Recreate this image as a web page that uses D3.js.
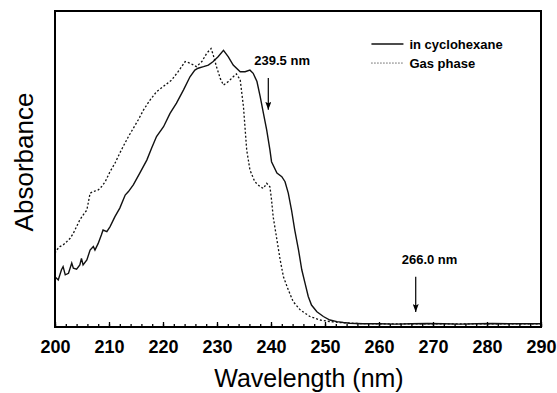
<!DOCTYPE html>
<html>
<head>
<meta charset="utf-8">
<script src="https://cdn.jsdelivr.net/npm/d3@7"></script>
<style>
  body { margin: 0; background: #fff; }
  svg { display: block; font-family: "Liberation Sans", Arial, sans-serif; }
</style>
</head>
<body>
<div id="chart"></div>
<script>
// in cyclohexane (solid)
const solidWl = [200.0, 200.6, 201.2, 201.5, 201.9, 202.5, 203.1, 203.4, 204.0, 204.6, 204.9, 205.2, 205.9,
  206.5, 207.1, 207.4, 208.0, 208.6, 208.9, 209.6, 210.2, 211.1, 212.0, 213.0, 213.6, 214.5, 215.7, 217.0,
  217.9, 218.8, 220.1, 221.3, 222.5, 223.8, 225.0, 225.9, 226.5, 227.5, 228.4, 229.3, 230.2, 231.2, 232.1,
  233.0, 234.3, 235.2, 236.1, 236.7, 237.4, 238.0, 238.6, 239.2, 239.8, 240.1, 241.1, 242.0, 242.6, 243.2,
  243.8, 244.4, 245.1, 245.7, 246.3, 246.9, 247.5, 248.5, 249.7, 250.9, 252.2, 253.4, 254.6, 257, 260, 263,
  266, 269, 272, 275, 278, 281, 284, 287, 290];
const solidAbs = [0.164, 0.154, 0.186, 0.196, 0.170, 0.175, 0.207, 0.191, 0.188, 0.201, 0.222, 0.201, 0.217,
  0.248, 0.259, 0.248, 0.269, 0.296, 0.311, 0.306, 0.322, 0.353, 0.380, 0.421, 0.432, 0.453, 0.490, 0.531,
  0.569, 0.605, 0.636, 0.678, 0.710, 0.752, 0.793, 0.814, 0.820, 0.825, 0.830, 0.841, 0.856, 0.876, 0.856,
  0.830, 0.809, 0.809, 0.814, 0.804, 0.778, 0.731, 0.678, 0.626, 0.563, 0.526, 0.490, 0.479, 0.463, 0.427,
  0.374, 0.311, 0.248, 0.186, 0.144, 0.102, 0.075, 0.054, 0.039, 0.028, 0.023, 0.020, 0.018, 0.016, 0.016,
  0.015, 0.016, 0.017, 0.016, 0.015, 0.016, 0.017, 0.016, 0.016, 0.016];

// gas phase (dotted)
const gasWl = [200.0, 200.3, 200.9, 201.5, 202.2, 202.8, 203.4, 204.0, 204.6, 205.2, 205.9, 206.5, 207.1,
  208.0, 208.6, 209.3, 210.2, 211.1, 212.0, 212.6, 213.6, 214.5, 215.4, 216.4, 217.6, 218.8, 220.4, 221.6,
  222.8, 224.1, 225.0, 226.2, 227.2, 228.1, 228.9, 229.3, 229.9, 230.6, 231.2, 232.1, 233.0, 233.6, 234.3,
  234.9, 235.5, 236.1, 237.0, 238.0, 238.6, 239.2, 239.8, 240.1, 240.4, 241.1, 241.7, 242.3, 243.2, 244.1,
  245.4, 247.2, 249.1, 250.9, 252.8, 256, 260, 264, 268, 272, 276, 280, 284, 288, 290];
const gasAbs = [0.238, 0.248, 0.259, 0.264, 0.275, 0.285, 0.301, 0.322, 0.343, 0.358, 0.374, 0.427, 0.432,
  0.437, 0.447, 0.463, 0.495, 0.521, 0.553, 0.573, 0.605, 0.631, 0.657, 0.689, 0.720, 0.746, 0.767, 0.783,
  0.809, 0.841, 0.836, 0.825, 0.841, 0.867, 0.882, 0.862, 0.825, 0.788, 0.767, 0.778, 0.793, 0.802, 0.783,
  0.699, 0.563, 0.500, 0.463, 0.447, 0.442, 0.458, 0.447, 0.406, 0.353, 0.280, 0.217, 0.164, 0.123, 0.086,
  0.060, 0.039, 0.028, 0.023, 0.020, 0.017, 0.016, 0.016, 0.016, 0.016, 0.016, 0.016, 0.016, 0.016, 0.016];

const xTicks = [200, 210, 220, 230, 240, 250, 260, 270, 280, 290];
const seriesNames = ["in cyclohexane", "Gas phase"];

// arrows: wavelength, top and tip (absorbance units)
const notes = [
  { label: "239.5 nm", wl: 239.5, top: 0.789, tip: 0.689 },
  { label: "266.0 nm", wl: 266.8, top: 0.164, tip: 0.053 }
];

const W = 557, H = 393;
const margin = { top: 11, right: 16, bottom: 66, left: 55 };
const width = W - margin.left - margin.right;
const height = H - margin.top - margin.bottom;

const svg = d3.select("#chart").append("svg")
  .attr("width", W).attr("height", H);

svg.append("defs").append("marker")
  .attr("id", "head")
  .attr("viewBox", "0 0 8 6")
  .attr("refX", 8).attr("refY", 3)
  .attr("markerWidth", 8).attr("markerHeight", 6)
  .attr("markerUnits", "userSpaceOnUse")
  .attr("orient", "auto")
  .append("path").attr("d", "M0,0 L8,3 L0,6 L1.5,3 Z").attr("fill", "#000");

const g = svg.append("g").attr("transform", `translate(${margin.left},${margin.top})`);

const x = d3.scaleLinear().domain([200, 290]).range([0, width]);
const y = d3.scaleLinear().domain([0.006, 1]).range([height, 0]);

const line = d3.line().x(d => x(d[0])).y(d => y(d[1]));
const solid = solidWl.map((w, i) => [w, solidAbs[i]]);
const gas = gasWl.map((w, i) => [w, gasAbs[i]]);

g.append("path").datum(gas)
  .attr("d", line)
  .attr("fill", "none").attr("stroke", "#111")
  .attr("stroke-width", 1.3).attr("stroke-dasharray", "2,2");

g.append("path").datum(solid)
  .attr("d", line)
  .attr("fill", "none").attr("stroke", "#111")
  .attr("stroke-width", 1.4);

// minor + major ticks pointing inward
const minor = d3.range(200, 291, 2);
g.append("g")
  .attr("transform", `translate(0,${height})`)
  .call(d3.axisBottom(x).tickValues(minor).tickSize(-3).tickFormat(""))
  .call(a => a.select(".domain").remove())
  .selectAll("line").attr("stroke-width", 1.3);

const xAxis = g.append("g")
  .attr("transform", `translate(0,${height})`)
  .call(d3.axisBottom(x).tickValues(xTicks).tickSize(-5).tickPadding(13).tickFormat(d3.format("d")));
xAxis.select(".domain").remove();
xAxis.selectAll("line").attr("stroke-width", 1.3);
xAxis.selectAll("text")
  .attr("fill", "#000")
  .style("font-size", "18px")
  .style("font-weight", "bold")
  .style("font-family", "'Liberation Sans', Arial, sans-serif");

// frame
g.append("rect")
  .attr("x", 0).attr("y", 0)
  .attr("width", width).attr("height", height)
  .attr("fill", "none").attr("stroke", "#000").attr("stroke-width", 2);

// axis titles
svg.append("text")
  .attr("x", margin.left + width / 2 + 11)
  .attr("y", H - 6)
  .attr("text-anchor", "middle")
  .style("font-size", "25px")
  .text("Wavelength (nm)");

svg.append("text")
  .attr("transform", `translate(33,${margin.top + 151}) rotate(-90)`)
  .attr("text-anchor", "middle")
  .style("font-size", "26px")
  .text("Absorbance");

// legend
const legend = g.append("g").attr("transform", `translate(${x(258.6)},${y(0.896)})`);
seriesNames.forEach((name, i) => {
  legend.append("line")
    .attr("x1", 0).attr("x2", 32)
    .attr("y1", i * 19).attr("y2", i * 19)
    .attr("stroke", "#111")
    .attr("stroke-width", i === 0 ? 1.4 : 1)
    .attr("stroke-dasharray", i === 0 ? null : "1,2");
  legend.append("text")
    .attr("x", 38).attr("y", i * 19 + 5)
    .style("font-size", "13px")
    .style("font-weight", "bold")
    .text(name);
});

// arrow annotations
notes.forEach(n => {
  g.append("line")
    .attr("x1", x(n.wl)).attr("x2", x(n.wl))
    .attr("y1", y(n.top)).attr("y2", y(n.tip))
    .attr("stroke", "#000").attr("stroke-width", 1.2)
    .attr("marker-end", "url(#head)");
  g.append("text")
    .attr("x", x(n.wl) - 14)
    .attr("y", y(n.top) - 13)
    .style("font-size", "13px")
    .style("font-weight", "bold")
    .text(n.label);
});
</script>
</body>
</html>
